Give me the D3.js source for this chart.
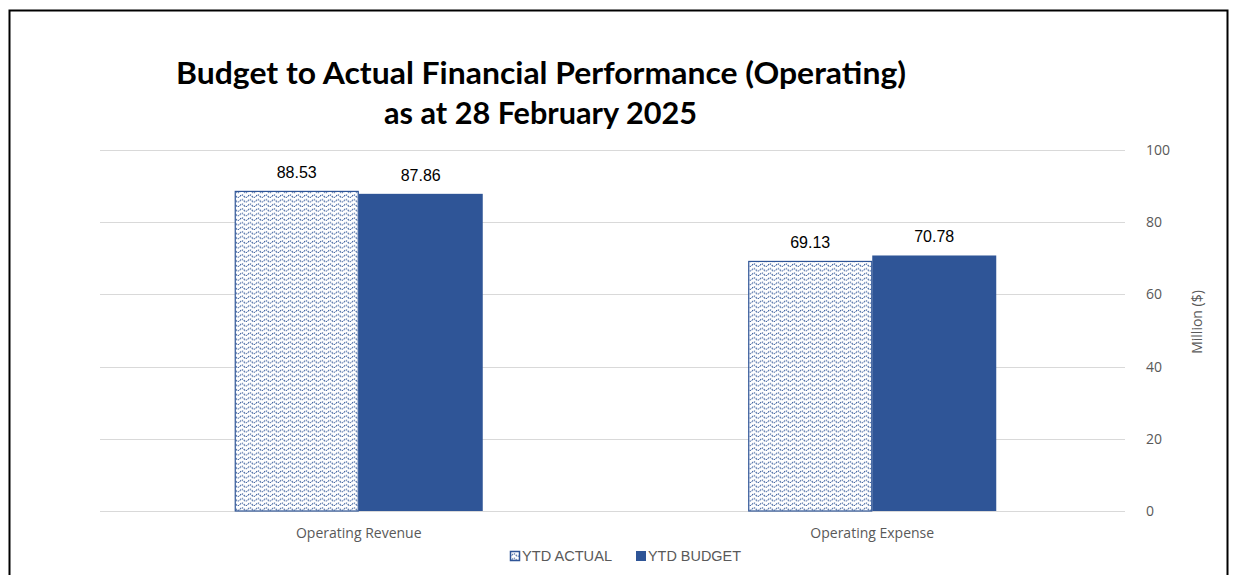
<!DOCTYPE html>
<html>
<head>
<meta charset="utf-8">
<script src="https://cdn.jsdelivr.net/npm/d3@7"></script>
<style>
  body { margin: 0; background: #fff; }
  svg { display: block; font-family: "Open Sans", "Liberation Sans", sans-serif; }
</style>
</head>
<body>
<svg id="chart" width="1233" height="575"></svg>
<script>
const categories = ["Operating Revenue", "Operating Expense"];
const series = ["YTD  ACTUAL", "YTD  BUDGET"];
const actual = [88.53, 69.13];
const budget = [87.86, 70.78];
const yTicks = [0, 20, 40, 60, 80, 100];

const width = 1233, height = 575;
const svg = d3.select("#chart");
const blue = "#2F5597";

// frame
svg.append("rect")
    .attr("x", 9.5).attr("y", 10.5)
    .attr("width", 1218).attr("height", 600)
    .attr("fill", "none").attr("stroke", "#000").attr("stroke-width", 2);

// wavy dashed pattern for actual bars
const defs = svg.append("defs");
const pat = defs.append("pattern")
    .attr("id", "wave")
    .attr("patternUnits", "userSpaceOnUse")
    .attr("width", 8).attr("height", 4.6);
pat.append("rect").attr("width", 8).attr("height", 4.6).attr("fill", "#fff");
pat.append("path")
    .attr("d", "M0,3 Q2,0.6 4,3 T8,3")
    .attr("fill", "none")
    .attr("stroke", blue)
    .attr("stroke-width", 1.1)
    .attr("stroke-dasharray", "1.4,0.8");

const x = d3.scaleBand().domain(categories).range([102, 1129]);
const y = d3.scaleLinear().domain([0, 100]).range([511, 150]);
const barW = 124;

// gridlines
svg.append("g")
    .selectAll("line")
    .data(yTicks)
    .join("line")
    .attr("x1", 100).attr("x2", 1125)
    .attr("y1", d => Math.round(y(d)) + 0.5)
    .attr("y2", d => Math.round(y(d)) + 0.5)
    .attr("stroke", "#d9d9d9").attr("stroke-width", 1);

// right axis labels
svg.append("g")
    .selectAll("text")
    .data(yTicks)
    .join("text")
    .attr("x", 1146)
    .attr("y", d => y(d) + 5)
    .attr("font-size", 14)
    .attr("fill", "#595959")
    .text(d => d);

svg.append("text")
    .attr("transform", "translate(1202,322) rotate(-90)")
    .attr("text-anchor", "middle")
    .attr("font-size", 14)
    .attr("fill", "#595959")
    .text("Million ($)");

const cx = c => x(c) + x.bandwidth() / 2;

// actual bars
svg.append("g")
    .selectAll("rect")
    .data(categories)
    .join("rect")
    .attr("x", d => cx(d) - barW + 0.5)
    .attr("y", (d, i) => y(actual[i]))
    .attr("width", barW - 1)
    .attr("height", (d, i) => y(0) - y(actual[i]))
    .attr("fill", "url(#wave)")
    .attr("stroke", blue).attr("stroke-width", 1.2);

// budget bars
svg.append("g")
    .selectAll("rect")
    .data(categories)
    .join("rect")
    .attr("x", d => cx(d))
    .attr("y", (d, i) => y(budget[i]))
    .attr("width", barW)
    .attr("height", (d, i) => y(0) - y(budget[i]))
    .attr("fill", blue);

// value labels
const labels = svg.append("g")
    .attr("font-family", "Liberation Sans, Arial, sans-serif")
    .attr("font-size", 16).attr("fill", "#000").attr("text-anchor", "middle");
labels.selectAll(".la")
    .data(categories)
    .join("text")
    .attr("class", "la")
    .attr("x", d => cx(d) - barW / 2)
    .attr("y", (d, i) => y(actual[i]) - 13)
    .text((d, i) => actual[i].toFixed(2));
labels.selectAll(".lb")
    .data(categories)
    .join("text")
    .attr("class", "lb")
    .attr("x", d => cx(d) + barW / 2)
    .attr("y", (d, i) => y(budget[i]) - 13)
    .text((d, i) => budget[i].toFixed(2));

// category labels
svg.append("g")
    .selectAll("text")
    .data(categories)
    .join("text")
    .attr("x", d => cx(d))
    .attr("y", 538)
    .attr("text-anchor", "middle")
    .attr("font-size", 14)
    .attr("fill", "#595959")
    .text(d => d);

// title
const title = svg.append("text")
    .attr("font-family", "Lato, sans-serif")
    .attr("font-size", 30)
    .attr("font-weight", "bold")
    .attr("fill", "#000");
title.append("tspan").attr("x", 176).attr("y", 84)
    .attr("textLength", 730).attr("lengthAdjust", "spacingAndGlyphs")
    .text("Budget to Actual Financial Performance (Operating)");
title.append("tspan").attr("x", 384).attr("y", 124)
    .attr("textLength", 313).attr("lengthAdjust", "spacingAndGlyphs")
    .text("as at 28 February 2025");

// legend
const leg = svg.append("g")
    .attr("font-family", "Liberation Sans, Arial, sans-serif")
    .attr("font-size", 14).attr("fill", "#595959");
leg.append("rect").attr("x", 510.5).attr("y", 551.5).attr("width", 9).attr("height", 9)
    .attr("fill", "url(#wave)").attr("stroke", blue).attr("stroke-width", 1.5);
leg.append("text").attr("x", 522).attr("y", 561)
    .attr("textLength", 90).attr("lengthAdjust", "spacingAndGlyphs").text(series[0]);
leg.append("rect").attr("x", 636).attr("y", 551).attr("width", 10).attr("height", 10).attr("fill", blue);
leg.append("text").attr("x", 648).attr("y", 561)
    .attr("textLength", 93).attr("lengthAdjust", "spacingAndGlyphs").text(series[1]);
</script>
</body>
</html>
